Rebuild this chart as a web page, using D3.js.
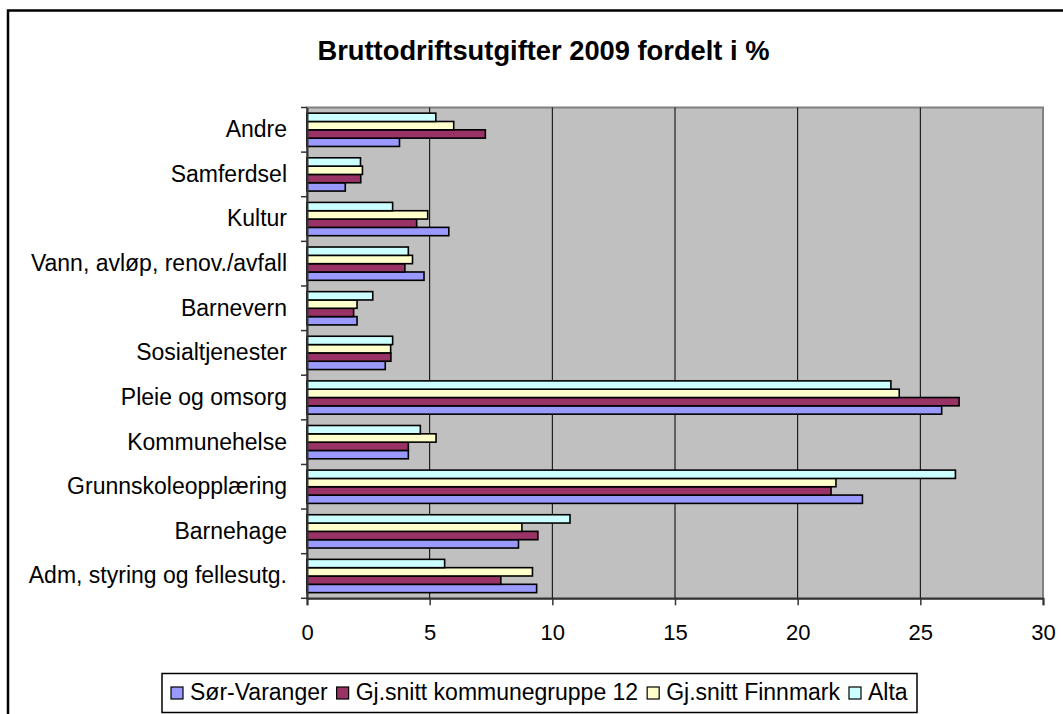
<!DOCTYPE html>
<html>
<head>
<meta charset="utf-8">
<script src="https://cdn.jsdelivr.net/npm/d3@7"></script>
<style>
  body { margin: 0; background: #fff; }
  svg text { font-family: Arial, "Liberation Sans", sans-serif; fill: #000; }
</style>
</head>
<body>
<script>
// chart data (categories listed top to bottom as drawn)
var categories = ["Andre", "Samferdsel", "Kultur", "Vann, avløp, renov./avfall", "Barnevern",
    "Sosialtjenester", "Pleie og omsorg", "Kommunehelse", "Grunnskoleopplæring", "Barnehage",
    "Adm, styring og fellesutg."];
var seriesNames = ["Sør-Varanger", "Gj.snitt kommunegruppe 12", "Gj.snitt Finnmark", "Alta"];
var seriesColors = ["#9999ff", "#993366", "#ffffcc", "#ccffff"];
var sorVaranger = [3.77, 1.56, 5.78, 4.77, 2.04, 3.19, 25.87, 4.13, 22.64, 8.62, 9.36];
var kommunegruppe12 = [7.27, 2.19, 4.47, 3.99, 1.90, 3.42, 26.58, 4.13, 21.36, 9.41, 7.90];
var finnmark = [5.98, 2.26, 4.92, 4.30, 2.04, 3.41, 24.14, 5.26, 21.56, 8.76, 9.19];
var alta = [5.25, 2.18, 3.49, 4.13, 2.68, 3.49, 23.80, 4.62, 26.43, 10.72, 5.61];
var xTicks = [0, 5, 10, 15, 20, 25, 30];
var title = "Bruttodriftsutgifter 2009 fordelt i %";

var seriesValues = [sorVaranger, kommunegruppe12, finnmark, alta];

// layout
var w = 1063, h = 714;
var plot = { left: 307, right: 1043, top: 107.5, bottom: 598.3 };

var svg = d3.select("body")
    .append("svg")
    .attr("width", w)
    .attr("height", h);

// outer chart frame (right and bottom edges are cut off in the picture)
svg.append("rect")
    .attr("x", 8)
    .attr("y", 10.5)
    .attr("width", w + 20)
    .attr("height", h + 20)
    .attr("fill", "#fff")
    .attr("stroke", "#000")
    .attr("stroke-width", 2.5);

svg.append("text")
    .attr("x", 543.5)
    .attr("y", 60)
    .attr("text-anchor", "middle")
    .style("font-size", "27.3px")
    .style("font-weight", "bold")
    .text(title);

// scales
var xScale = d3.scaleLinear()
    .domain([0, 30])
    .range([plot.left, plot.right]);
var yScale = d3.scaleBand()
    .domain(categories)
    .range([plot.top, plot.bottom])
    .paddingInner(0.254)
    .paddingOuter(0.127);
// inside one group, top to bottom: Alta, Finnmark, kgr 12, Sør-Varanger
var innerScale = d3.scaleBand()
    .domain([3, 2, 1, 0])
    .range([0, yScale.bandwidth()]);

// plot background
svg.append("rect")
    .attr("x", plot.left)
    .attr("y", plot.top)
    .attr("width", plot.right - plot.left)
    .attr("height", plot.bottom - plot.top)
    .attr("fill", "#c0c0c0")
    .attr("stroke", "#808080")
    .attr("stroke-width", 2);

// vertical gridlines
svg.append("g")
    .attr("class", "grid")
    .selectAll("line")
    .data(xTicks.slice(1, -1))
    .enter()
    .append("line")
    .attr("x1", function(d) { return xScale(d); })
    .attr("x2", function(d) { return xScale(d); })
    .attr("y1", plot.top)
    .attr("y2", plot.bottom)
    .attr("stroke", "#000")
    .attr("stroke-width", 1);

// bars
var groups = svg.append("g")
    .attr("id", "bars")
    .selectAll("g")
    .data(categories)
    .enter()
    .append("g")
    .attr("transform", function(d) { return "translate(0," + yScale(d) + ")"; });

groups.selectAll("rect")
    .data(function(d, i) {
        return seriesValues.map(function(vals, s) { return { series: s, value: vals[i] }; });
    })
    .enter()
    .append("rect")
    .attr("x", xScale(0))
    .attr("y", function(d) { return innerScale(d.series); })
    .attr("width", function(d) { return xScale(d.value) - xScale(0); })
    .attr("height", innerScale.bandwidth())
    .attr("fill", function(d) { return seriesColors[d.series]; })
    .attr("stroke", "#000")
    .attr("stroke-width", 1.6);

// x axis
var xAxis = d3.axisBottom(xScale)
    .tickValues(xTicks)
    .tickSize(7)
    .tickPadding(19)
    .tickFormat(d3.format("d"));
var gx = svg.append("g")
    .attr("class", "xaxis")
    .attr("transform", "translate(0," + plot.bottom + ")")
    .call(xAxis);
gx.select(".domain").attr("stroke", "#333").attr("stroke-width", 2);
gx.selectAll(".tick line").attr("stroke", "#333").attr("stroke-width", 1.5);
gx.selectAll("text").style("font-size", "22px").attr("fill", "#000");

// y axis: labels centred on the bands, tick marks on the band edges
var yAxis = d3.axisLeft(yScale)
    .tickSize(0)
    .tickPadding(20);
var gy = svg.append("g")
    .attr("class", "yaxis")
    .attr("transform", "translate(" + plot.left + ",0)")
    .call(yAxis);
gy.select(".domain").attr("stroke", "#333").attr("stroke-width", 2);
gy.selectAll("text").style("font-size", "23px").attr("fill", "#000");

var step = yScale.step();
gy.selectAll("line.edge")
    .data(d3.range(categories.length + 1))
    .enter()
    .append("line")
    .attr("class", "edge")
    .attr("x1", -6)
    .attr("x2", 0)
    .attr("y1", function(i) { return plot.top + i * step; })
    .attr("y2", function(i) { return plot.top + i * step; })
    .attr("stroke", "#333")
    .attr("stroke-width", 1.5);

// legend
var legend = svg.append("g").attr("class", "legend");
legend.append("rect")
    .attr("x", 162)
    .attr("y", 673.5)
    .attr("width", 755)
    .attr("height", 39)
    .attr("fill", "#fff")
    .attr("stroke", "#000")
    .attr("stroke-width", 1.5);

var lx = 171;
seriesNames.forEach(function(name, s) {
    legend.append("rect")
        .attr("x", lx)
        .attr("y", 687)
        .attr("width", 12)
        .attr("height", 12)
        .attr("fill", seriesColors[s])
        .attr("stroke", "#000")
        .attr("stroke-width", 1.2);
    var t = legend.append("text")
        .attr("x", lx + 19)
        .attr("y", 700)
        .style("font-size", "23px")
        .text(name);
    lx = lx + 19 + t.node().getComputedTextLength() + 9;
});
</script>
</body>
</html>
